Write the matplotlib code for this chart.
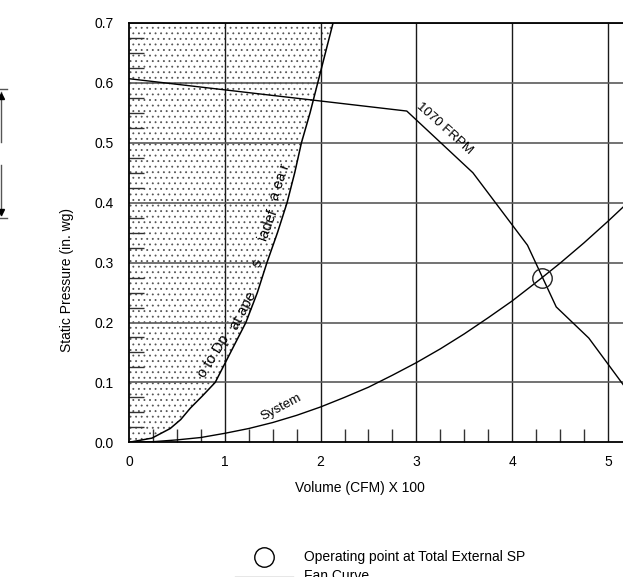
import matplotlib
matplotlib.use('Agg')
import matplotlib.pyplot as plt
from matplotlib.lines import Line2D
import numpy as np

plt.rcParams['font.family'] = ['Liberation Sans', 'DejaVu Sans']
plt.rcParams['hatch.color'] = '#555555'
plt.rcParams['hatch.linewidth'] = 0.6

# ── data ──────────────────────────────────────────
fan_x = [0.0, 2.90, 3.59, 4.16, 4.46, 4.80, 5.16]
fan_y = [0.607, 0.553, 0.450, 0.329, 0.226, 0.174, 0.096]

sys_x = [0.0, 0.25, 0.5, 0.75, 1.0, 1.25, 1.5, 1.75, 2.0, 2.25, 2.5, 2.75,
         3.0, 3.25, 3.5, 3.75, 4.0, 4.25, 4.5, 4.75, 5.0, 5.2]
sys_y = [0.0, 0.001, 0.004, 0.008, 0.015, 0.023, 0.033, 0.045, 0.059, 0.075,
         0.092, 0.112, 0.133, 0.156, 0.181, 0.208, 0.236, 0.267, 0.299, 0.333,
         0.369, 0.399]

# limit curve of the shaded (do-not-operate) area
lim_x = [0.0, 0.24, 0.43, 0.54, 0.64, 0.77, 0.90, 1.06, 1.22, 1.34, 1.44,
         1.55, 1.65, 1.73, 1.80, 1.89, 1.97, 2.05, 2.13]
lim_y = [0.0, 0.007, 0.023, 0.038, 0.057, 0.078, 0.100, 0.150, 0.200, 0.250,
         0.300, 0.350, 0.400, 0.450, 0.500, 0.550, 0.600, 0.650, 0.700]

op_x, op_y = 4.314, 0.2746
fan_label = '1070 FRPM'

W, H = 623, 577
fig = plt.figure(figsize=(W / 100, H / 100), dpi=100)
ax = fig.add_axes([129 / W, (H - 442.3) / H, (623 - 129) / W, (442.3 - 23) / H])
ax.set_xlim(0, 5.157)
ax.set_ylim(0, 0.7)

# shaded region (under the grid)
ax.fill_betweenx(lim_y, 0, lim_x, facecolor='white', hatch='...',
                 edgecolor='#555555', linewidth=0, zorder=0.5)

# grid
for gx in range(1, 6):
    ax.axvline(gx, color='#1a1a1a', lw=1.0, zorder=1)
for gy in np.arange(0.1, 0.71, 0.1):
    ax.axhline(gy, color='#5a5a5a', lw=1.2, zorder=1)

ax.plot(lim_x, lim_y, color='black', lw=1.1, zorder=4)

# curves
ax.plot(fan_x, fan_y, color='black', lw=1.0, zorder=4)
ax.plot(sys_x, sys_y, color='black', lw=1.0, zorder=4)
ax.plot(op_x, op_y, 'o', ms=14, mfc='none', mec='#222222', mew=1.0, zorder=5)

ax.text(3.29, 0.523, fan_label, rotation=-42, fontsize=9.5, ha='center', va='center')
ax.text(1.59, 0.059, 'System', rotation=28, fontsize=9.5, ha='center', va='center')

# garbled curve label
for s, tx, ty, r in [('o to Dp', 0.88, 0.143, 58), ('at ape', 1.19, 0.219, 62),
                     ('s', 1.34, 0.300, 68), ('iadef', 1.445, 0.363, 70),
                     ('a ea r', 1.576, 0.434, 72)]:
    ax.text(tx, ty, s, rotation=r, fontsize=10.5, ha='center', va='center', zorder=6)

# ticks
ax.set_xticks(range(0, 6))
ax.set_yticks(np.round(np.arange(0, 0.71, 0.1), 1))
ax.set_yticklabels([f'{v:.1f}' for v in np.arange(0, 0.71, 0.1)])
ax.set_xticks(np.arange(0.25, 5.2, 0.25), minor=True)
ax.set_yticks(np.arange(0.025, 0.7, 0.025), minor=True)
ax.tick_params(which='major', length=0, labelsize=10, pad=11)
ax.tick_params(axis='x', which='major', pad=9)
ax.tick_params(which='minor', direction='in', width=1.0, color='#333333')
ax.tick_params(axis='x', which='minor', length=9.5)
ax.tick_params(axis='y', which='minor', length=11)

for side in ['left', 'bottom', 'top']:
    ax.spines[side].set_linewidth(1.3)
    ax.spines[side].set_color('black')
ax.spines['right'].set_visible(False)

ax.set_ylabel('Static Pressure (in. wg)', fontsize=10)
ax.yaxis.set_label_coords(-(129 - 74) / 494, (442.3 - 280) / 419.3)
fig.text(360 / W, 1 - 488 / H, 'Volume (CFM) X 100', fontsize=10, ha='center', va='center')

# legend (cut off at the bottom, as in the source)
fig.add_artist(Line2D([264 / W], [1 - 557 / H], marker='o', ms=14, mfc='none',
                      mec='black', mew=1.0, transform=fig.transFigure))
fig.text(304 / W, 1 - 557 / H, 'Operating point at Total External SP',
         fontsize=10, ha='left', va='center')
fig.add_artist(Line2D([235 / W, 293 / W], [1 - 577 / H] * 2, color='#888888',
                      lw=1.0, transform=fig.transFigure))
fig.text(304 / W, 1 - 576 / H, 'Fan Curve', fontsize=10, ha='left', va='center')

# dimension bracket on the far left
def px(x, y):
    return x / W, 1 - y / H
for seg in [((0, 89), (7, 89)), ((0, 218), (7, 218)),
            ((1, 92), (1, 142)), ((1, 165), (1, 215))]:
    (x0, y0), (x1, y1) = px(*seg[0]), px(*seg[1])
    fig.add_artist(Line2D([x0, x1], [y0, y1], color='#555555', lw=1.0,
                          transform=fig.transFigure))
fig.add_artist(Line2D(*zip(px(1, 96)), marker='^', ms=4, color='black',
                      transform=fig.transFigure))
fig.add_artist(Line2D(*zip(px(1, 212)), marker='v', ms=4, color='black',
                      transform=fig.transFigure))

fig.savefig('out.png', dpi=100, facecolor='white')
